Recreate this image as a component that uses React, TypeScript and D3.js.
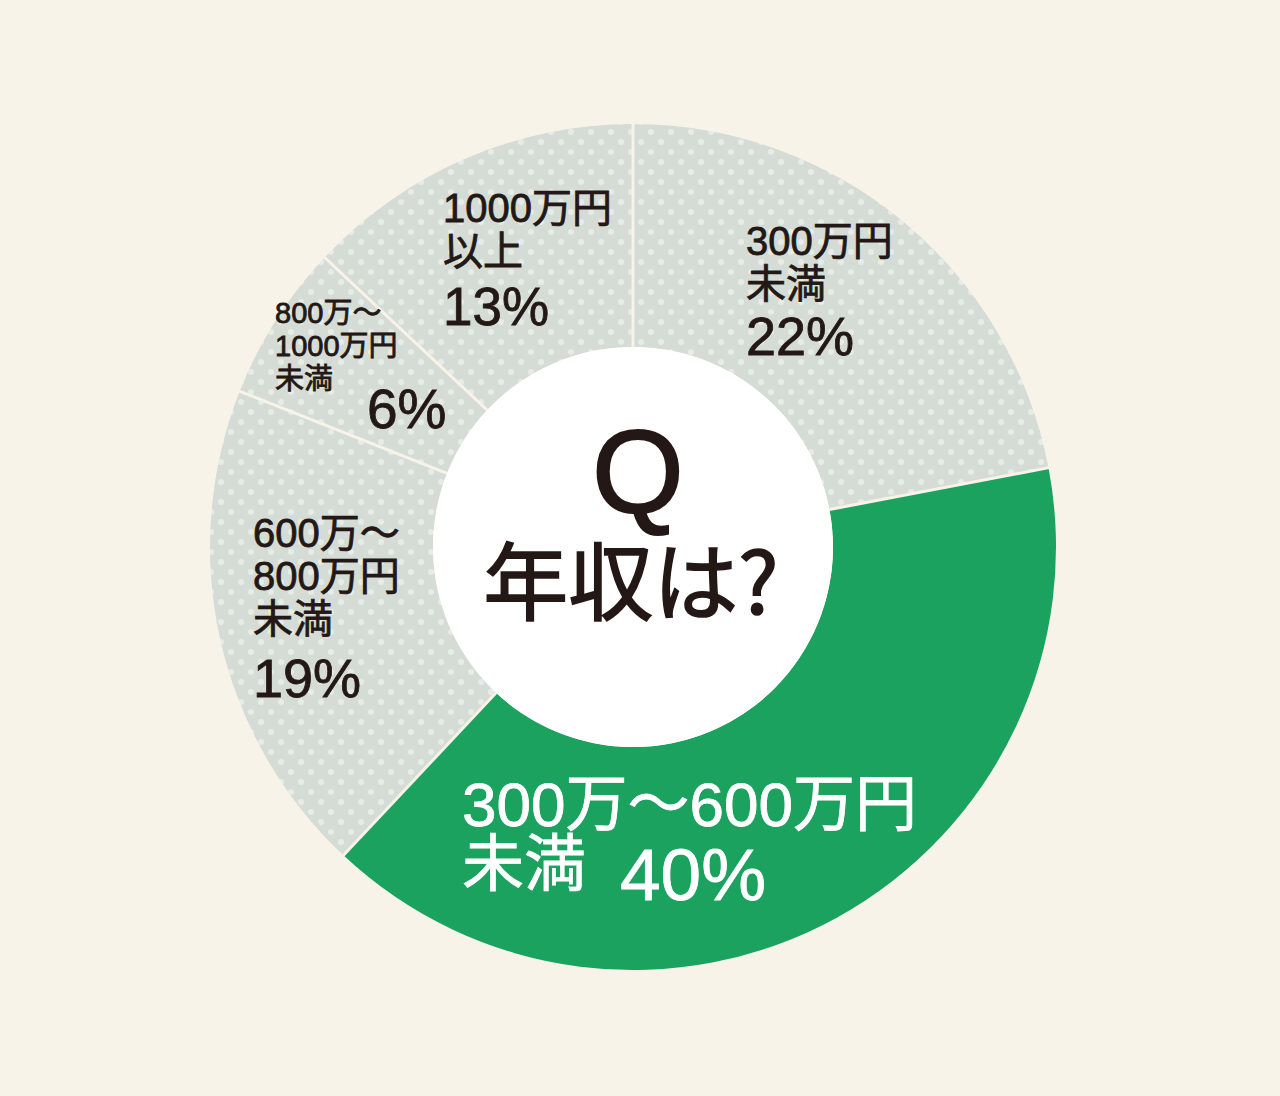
import React from "react";
import * as d3 from "d3";

const categories = ["300万円未満", "300万～600万円未満", "600万～800万円未満", "800万～1000万円未満", "1000万円以上"];
const values = [22, 40, 19, 6, 13];
const labelLines = [
  ["300万円", "未満"],
  ["300万～600万円", "未満"],
  ["600万～", "800万円", "未満"],
  ["800万～", "1000万円", "未満"],
  ["1000万円", "以上"],
];
const pctLabels = ["22%", "40%", "19%", "6%", "13%"];
const highlight = [false, true, false, false, false];

// layout (label anchors: left x, first baseline, line height, font size, pct position & size)
const labelLayout = [
  { x: 746, y: 255, lh: 43, fs: 40, px: 746, py: 355, pfs: 54 },
  { x: 462, y: 826, lh: 60, fs: 62, px: 620, py: 900, pfs: 73 },
  { x: 253, y: 547, lh: 43, fs: 40, px: 253, py: 697, pfs: 54 },
  { x: 275, y: 323, lh: 33, fs: 29, px: 367, py: 428, pfs: 55 },
  { x: 443, y: 222, lh: 43, fs: 40, px: 443, py: 325, pfs: 53 },
];

const W = 1280;
const H = 1096;
const CX = 633;
const CY = 547;
const R_OUT = 423;
const R_IN = 200;
const BG = "#f7f3e9";
const GRAY = "#d4dcd5";
const DOT = "#e7ece6";
const GREEN = "#1aa25e";
const INK = "#231815";
const FONT = "'Liberation Sans', 'Noto Sans CJK JP', sans-serif";
const CJK = "'Noto Sans CJK JP', sans-serif";

export default function App() {
  const pie = d3.pie<number>().sort(null).value((d) => d)(values);
  const arc = d3.arc<d3.PieArcDatum<number>>().innerRadius(R_IN).outerRadius(R_OUT);
  const sepRadius = d3.scaleLinear().domain([0, 1]).range([R_IN, R_OUT + 2]);

  return (
    <svg
      width={W}
      height={H}
      viewBox={`0 0 ${W} ${H}`}
      style={{ position: "absolute", left: 0, top: 0 }}
    >
      <defs>
        <pattern id="dots" width={20} height={20} patternUnits="userSpaceOnUse" x={CX} y={0}>
          <rect width={20} height={20} fill={GRAY} />
          <circle cx={5} cy={5} r={3} fill={DOT} />
          <circle cx={15} cy={15} r={3} fill={DOT} />
        </pattern>
      </defs>
      <rect width={W} height={H} fill={BG} />
      <g transform={`translate(${CX},${CY})`}>
        {pie.map((p, i) => (
          <path key={categories[i]} d={arc(p) || ""} fill={highlight[i] ? GREEN : "url(#dots)"} />
        ))}
        {pie.map((p, i) => {
          const a = p.startAngle;
          const r0 = sepRadius(0);
          const r1 = sepRadius(1);
          return (
            <line
              key={"sep" + i}
              x1={Math.sin(a) * r0}
              y1={-Math.cos(a) * r0}
              x2={Math.sin(a) * r1}
              y2={-Math.cos(a) * r1}
              stroke={BG}
              strokeWidth={3}
            />
          );
        })}
        <circle r={R_IN} fill="#ffffff" />
      </g>
      <g fontFamily={FONT}>
        {labelLines.map((lines, i) => {
          const L = labelLayout[i];
          const color = highlight[i] ? "#ffffff" : INK;
          return (
            <g key={"lab" + i} fill={color} stroke={color} strokeWidth={0.8}>
              {lines.map((t, j) => (
                <text key={j} x={L.x} y={L.y + j * L.lh} fontSize={L.fs}>
                  {t}
                </text>
              ))}
              <text x={L.px} y={L.py} fontSize={L.pfs}>
                {pctLabels[i]}
              </text>
            </g>
          );
        })}
        <text x={638} y={513} fontSize={118} textAnchor="middle" fill={INK} stroke={INK} strokeWidth={2}>
          Q
        </text>
        <text x={631} y={614} fontSize={85} textAnchor="middle" fill={INK} stroke={INK} strokeWidth={1.6} fontFamily={CJK}>
          年収は?
        </text>
      </g>
    </svg>
  );
}
